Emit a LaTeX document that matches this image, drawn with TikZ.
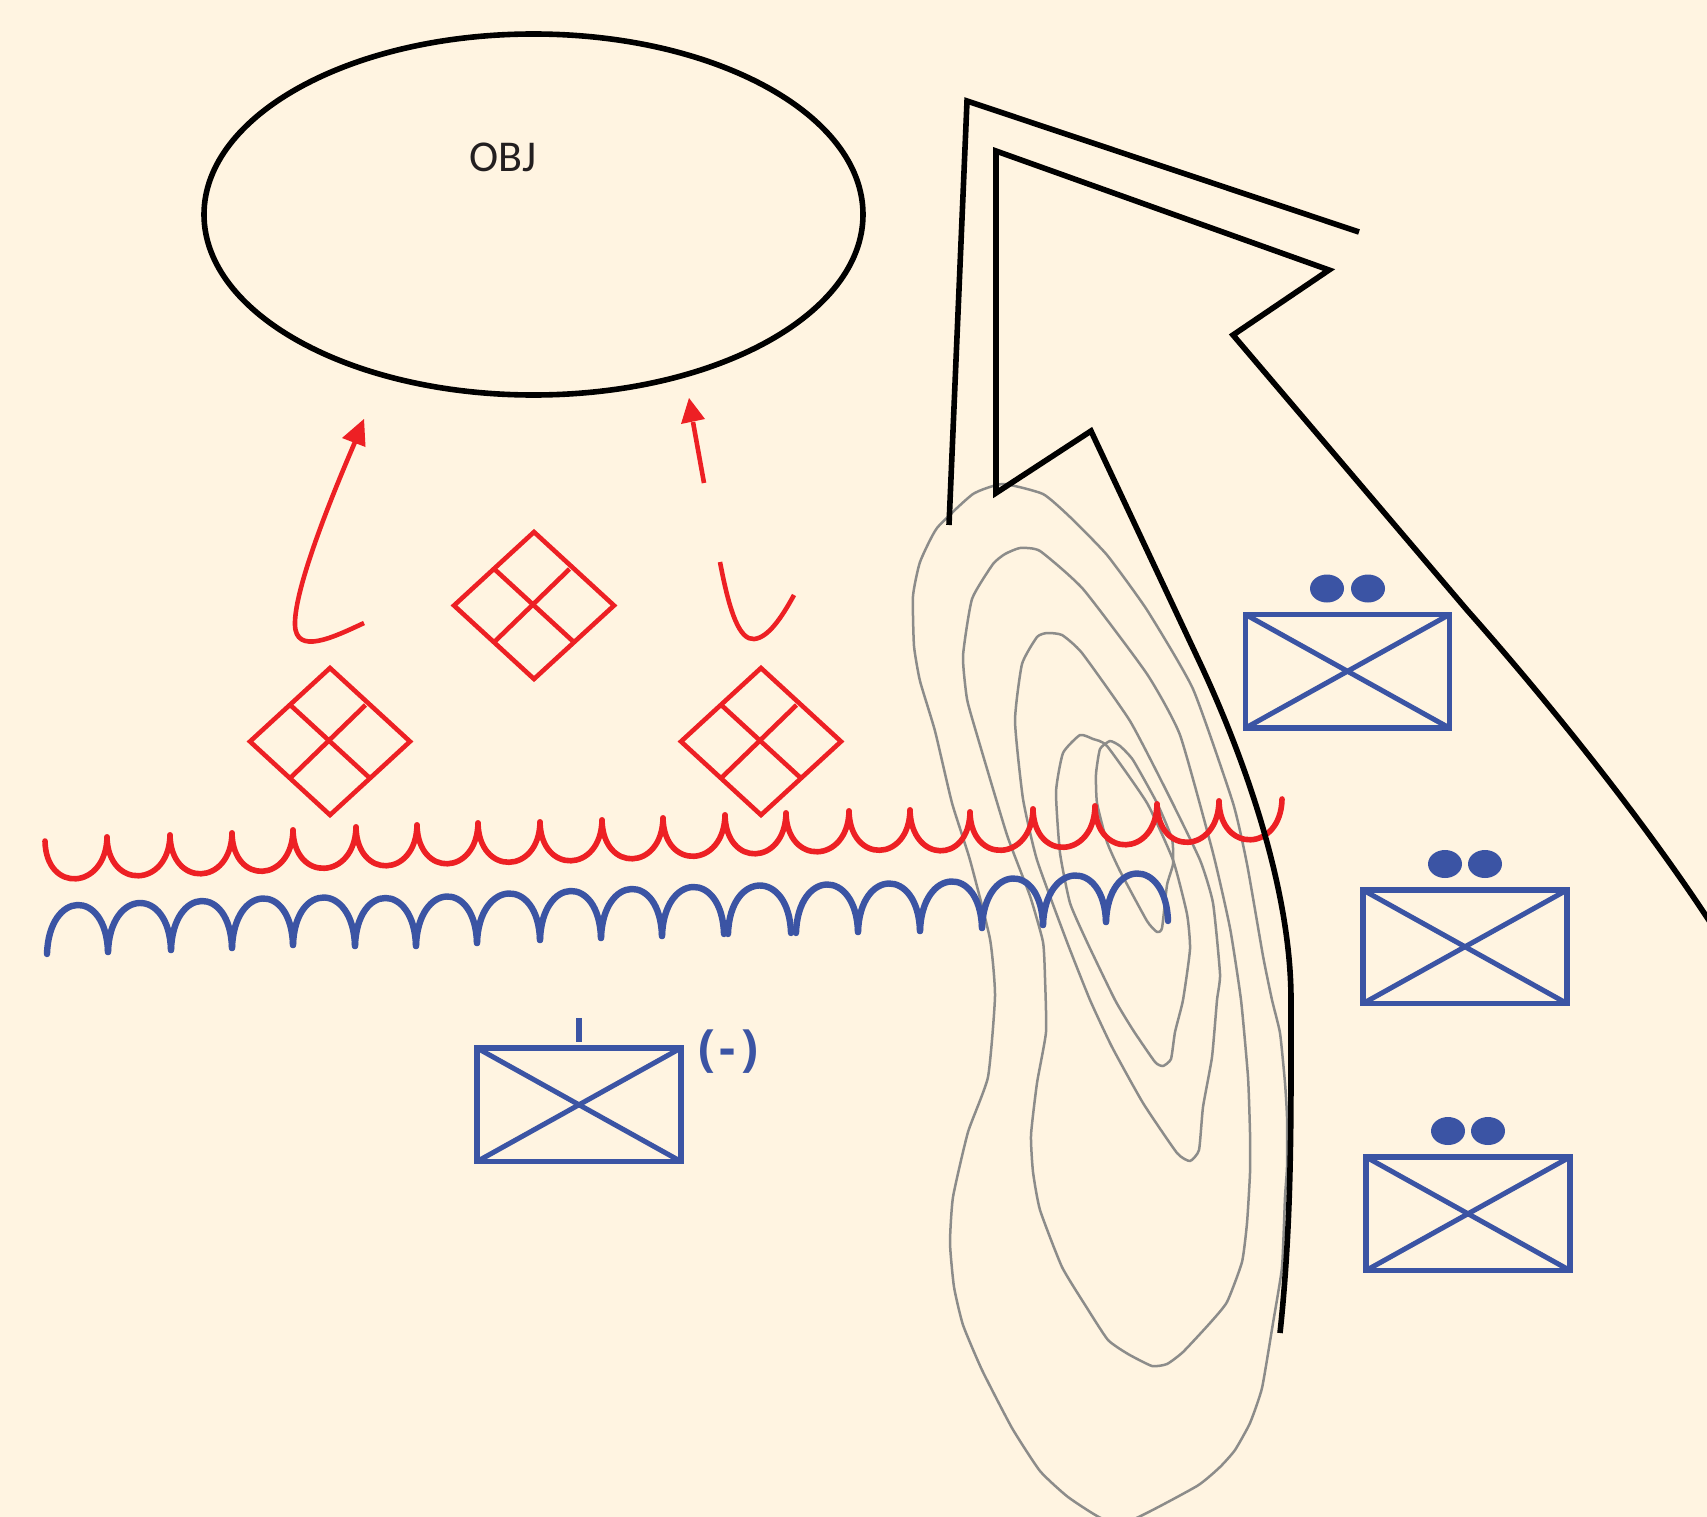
\documentclass[tikz,border=0pt]{standalone}
\usepackage{fontspec}
\newfontfamily\objfont{Carlito}
\newfontfamily\unitfont{Open Sans}
\definecolor{paper}{HTML}{FFF4E1}
\definecolor{redink}{HTML}{ED2024}
\definecolor{blueink}{HTML}{3B54A4}
\definecolor{contourgray}{HTML}{8C8C8A}
\definecolor{textink}{HTML}{231F20}
\tikzset{
  contour/.style={draw=contourgray,line width=2.5pt,line join=round},
  heavy/.style={draw=black,line width=5.6pt,line join=miter},
  redthin/.style={draw=redink,line width=4.6pt},
  redwave/.style={draw=redink,line width=5.6pt,line cap=round},
  bluewave/.style={draw=blueink,line width=6.4pt,line cap=round},
  boxframe/.style={draw=blueink,line width=5.8pt},
  boxdiag/.style={draw=blueink,line width=5pt},
  redhead/.style={fill=redink,draw=none},
  dotmark/.style={fill=blueink,draw=none}
}
\newcommand\scallops[6]{%
  \foreach \x/\y [remember=\x as \lx (initially #2), remember=\y as \ly (initially #3)] in {#6} {
    \draw[#1] (\lx,\ly) .. controls +(#5,#4) and +(-#5,#4) .. (\x,\y);
  }}
\newcommand\gridmark[2]{%
  \begin{scope}[shift={(#1,#2)}]
    \draw[redthin,line join=miter] (0,-73.5) -- (80,0) -- (0,73.5) -- (-80,0) -- cycle;
    \draw[redthin] (-40,-36.75) -- (40,36.75);
    \draw[redthin] (-40,36.75) -- (35.5,-36.5);
  \end{scope}}
\newcommand\unitmark[2]{%
  \begin{scope}[shift={(#1,#2)}]
    \draw[boxdiag] (0,0) -- (204,113.5);
    \draw[boxdiag] (0,113.5) -- (204,0);
    \draw[boxframe] (0,0) rectangle (204,113.5);
  \end{scope}}
\begin{document}
\begin{tikzpicture}[x=1pt,y=-1pt]
\useasboundingbox (0,0) rectangle (1707,1517);
\fill[paper] (0,0) rectangle (1707,1517);
\clip (0,0) rectangle (1707,1517);

% terrain contours
\draw[contour] plot[smooth cycle,tension=0.3] coordinates {(1003,484) (973,494) (937,528) (920,562) (913,596) (914,646) (920,681) (935,731) (952,803) (970,860) (990,939) (995,996) (988,1077) (968,1132) (953,1197) (950,1243) (954,1287) (963,1325) (982,1370) (1012,1428) (1040,1471) (1068,1497) (1103,1519) (1134,1519) (1197,1486) (1220,1467) (1235,1450) (1250,1423) (1262,1388) (1273,1323) (1282,1267) (1285,1197) (1287,1167) (1287,1117) (1285,1083) (1280,1033) (1272,1000) (1263,956) (1247,864) (1233,803) (1193,689) (1147,610) (1107,555) (1070,517) (1043,494)};
\draw[contour] plot[smooth cycle,tension=0.3] coordinates {(1020,548) (1005,554) (993,564) (972,599) (963,656) (967,699) (977,735) (1007,835) (1030,896) (1043,942) (1045,978) (1046,1032) (1037,1083) (1031,1135) (1033,1172) (1040,1210) (1062,1267) (1087,1308) (1108,1340) (1128,1354) (1152,1366) (1167,1364) (1183,1352) (1210,1323) (1227,1302) (1242,1262) (1247,1223) (1250,1173) (1250,1133) (1248,1077) (1241,1000) (1230,928) (1213,853) (1180,735) (1147,674) (1083,589) (1040,551)};
\draw[contour] plot[smooth cycle,tension=0.3] coordinates {(1047,633) (1037,637) (1022,664) (1015,721) (1023,799) (1037,860) (1067,942) (1090,1000) (1112,1047) (1143,1103) (1177,1153) (1190,1161) (1199,1150) (1203,1107) (1212,1057) (1217,1000) (1220,974) (1213,903) (1200,860) (1167,792) (1130,721) (1082,653) (1062,635)};
\draw[contour] plot[smooth cycle,tension=0.3] coordinates {(1080,735) (1063,753) (1056,792) (1060,853) (1070,903) (1087,942) (1115,1000) (1133,1030) (1155,1062) (1163,1066) (1171,1059) (1175,1032) (1183,1000) (1190,949) (1187,914) (1173,860) (1147,803) (1107,746) (1093,739)};
\draw[contour] plot[smooth cycle,tension=0.3] coordinates {(1110,741) (1100,749) (1096,774) (1097,803) (1107,842) (1120,871) (1147,921) (1157,932) (1162,928) (1167,885) (1173,864) (1172,839) (1157,803) (1133,760) (1120,746)};

% objective
\draw[heavy] (533.5,214.5) ellipse [x radius=329.5,y radius=180.5];
\node[anchor=base west,inner sep=0pt,text=textink,font=\objfont\fontsize{44}{50}\selectfont] (objlabel) at (469,171.6) {OBJ};

% grid marks
\gridmark{534}{605.5}
\gridmark{330}{741.5}
\gridmark{761}{741.5}

% red advance arrows
\draw[redthin] (364,623) .. controls (332,638) and (296,655) .. (295,625) .. controls (294,590) and (330,500) .. (355,442);
\fill[redhead] (364,419) -- (342,438) -- (365.5,447) -- cycle;
\draw[redthin] (704,483) -- (693,422);
\fill[redhead] (689,398) -- (681,424) -- (705,419) -- cycle;
\draw[redthin] (720,562) .. controls (730,615) and (740,640) .. (754,639) .. controls (768,638) and (782,617) .. (794,595);

% scalloped lines
\scallops{redwave}{45}{841}{53}{1}{107/837,170/835,232/833,293/830,356/827,417/825,478/823,540/822,602/820,663/818,725/815,786/813,849/811,910/810,970/812,1033/809,1095/806,1157/804,1219/801,1282/799}
\scallops{bluewave}{47}{954}{-64}{2}{108/952,171/950,232/948,293/945,355/946,416/946,477/943,540/940,601/938,662/936,724/934}
\scallops{bluewave}{728}{934}{-64}{2}{791/933}
\scallops{bluewave}{796}{933}{-64}{2}{858/932,920/931,982/928,1043/925,1106/922,1168/921}

% large black arrow
\draw[heavy] (949,525) -- (967,101) -- (1359,232);
\draw[heavy] (1280,1333) .. controls (1292,1220) and (1291,1120) .. (1291,1000) .. controls (1291,880) and (1237,742) .. (1200,663) -- (1091,431) -- (996,493) -- (996,151) -- (1329,270) -- (1233,335) -- (1467,610) .. controls (1560,715) and (1650,830) .. (1712,925);

% unit symbols
\unitmark{1245.5}{614.5}
\unitmark{1363}{890}
\unitmark{1366}{1157}
\unitmark{477}{1048}
\fill[dotmark] (1327,588.5) ellipse [x radius=17,y radius=14];
\fill[dotmark] (1368,588.5) ellipse [x radius=17,y radius=14];
\fill[dotmark] (1445,864) ellipse [x radius=17,y radius=14];
\fill[dotmark] (1485,864) ellipse [x radius=17,y radius=14];
\fill[dotmark] (1448,1131) ellipse [x radius=17,y radius=14];
\fill[dotmark] (1488,1131) ellipse [x radius=17,y radius=14];
\draw[boxframe] (579,1018) -- (579,1042);
\node[inner sep=0pt,text=blueink,font=\unitfont\bfseries\fontsize{50}{54}\selectfont] (strength) at (728,1052) {(\kern5pt-\kern5pt)};
\end{tikzpicture}
\end{document}
